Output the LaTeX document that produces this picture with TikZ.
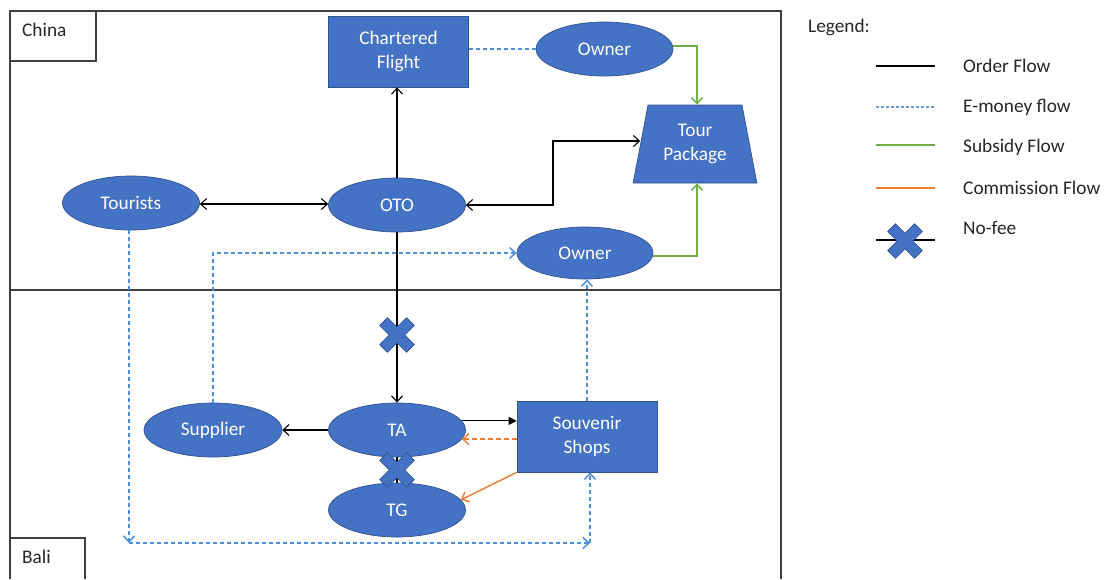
\documentclass[tikz,border=0pt]{standalone}
\usepackage{fontspec}
\setmainfont{Carlito}
\usetikzlibrary{arrows.meta,shapes.geometric}
\definecolor{ob}{HTML}{4472C4}
\definecolor{obd}{HTML}{2F528F}
\definecolor{em}{HTML}{4A90D9}
\definecolor{emlight}{HTML}{6F98DE}
\definecolor{sub}{HTML}{70AD47}
\definecolor{com}{HTML}{ED7D31}
\definecolor{frm}{HTML}{404040}
\definecolor{txt}{HTML}{262626}
\tikzset{
  nofee/.pic={
    \filldraw[fill=ob,draw=obd,line width=0.6pt,rotate=45]
      (5.5,5.5) -- (19,5.5) -- (19,-5.5) -- (5.5,-5.5) -- (5.5,-19) -- (-5.5,-19)
      -- (-5.5,-5.5) -- (-19,-5.5) -- (-19,5.5) -- (-5.5,5.5) -- (-5.5,19) -- (5.5,19) -- cycle;
  }
}
\begin{document}
\begin{tikzpicture}[x=1pt,y=-1pt,
  font=\fontsize{19.3}{24.5}\selectfont,
  >={Straight Barb[length=6pt,width=11pt]},
  ell/.style={ellipse, fill=ob, draw=obd, line width=0.7pt, text=white,
    minimum width=137pt, minimum height=54pt, inner sep=0pt},
  boxnode/.style={rectangle, fill=ob, draw=obd, line width=0.7pt, text=white,
    minimum width=140pt, minimum height=71pt, inner sep=0pt, align=center},
  frame/.style={draw=frm, line width=1.5pt},
  lbl/.style={text=txt, inner sep=0pt, anchor=west},
  ord/.style={draw=black, line width=1.1pt},
  emo/.style={draw=em, line width=1.5pt, dash pattern=on 4pt off 3pt},
  subs/.style={draw=sub, line width=1.5pt},
  comm/.style={draw=com, line width=1.4pt}
]
\useasboundingbox (0,0) rectangle (1110,579);

% frames
\draw[frame] (10,579) -- (10,11) -- (781,11) -- (781,579);
\draw[frame] (10,290) -- (781,290);
\draw[frame] (10,61) -- (96,61) -- (96,11);
\draw[frame] (10,538) -- (85,538) -- (85,579);
\node[lbl] (china) at (22,30) {China};
\node[lbl] (bali) at (22,557) {Bali};

% nodes
\node[boxnode] (chart) at (398.5,51.5) {Chartered\\Flight};
\node[ell] (own1) at (604.5,49) {Owner};
\node[trapezium, trapezium stretches=true, trapezium angle=76,
      minimum width=124pt, minimum height=78pt, inner sep=0pt,
      fill=ob, draw=obd, line width=0.7pt, text=white, align=center]
      (tour) at (695,144) {Tour\\Package};
\node[ell] (tourists) at (131,203) {Tourists};
\node[ell] (oto) at (397,205) {OTO};
\node[ell, minimum width=136pt, minimum height=52pt] (own2) at (585,253) {Owner};
\node[ell] (ta) at (397,430) {TA};
\node[ell] (tg) at (397,510) {TG};
\node[ell, minimum width=138pt] (sup) at (213,430) {Supplier};
\node[boxnode] (souv) at (587,436.5) {Souvenir\\Shops};

\coordinate (c1) at (129,543);
\coordinate (c2) at (590,543);

% order flow
\draw[ord,<->] ([yshift=-1pt]tourists.east) -- ([yshift=-1pt]tourists.east -| oto.west);
\draw[ord,->] (oto.north) -- (oto.north |- chart.south);
\draw[ord,<->] (oto.east) -- (553,205) |- ([yshift=3pt]tour.west);
\draw[ord,->] (oto.south) -- (ta.north);
\draw[ord,->] (ta.west) -- (sup.east);
\draw[ord,-{Triangle[length=8pt,width=8pt]}] (ta.8) -- (ta.8 -| souv.west);
\draw[ord] (ta.south) -- (tg.north);

% e-money flow
\draw[emo] (own1.west) -- (own1.west -| chart.east);
\draw[emo,->] (sup.north) |- (own2.west);
\draw[emo,->] (souv.north) -- (souv.north |- own2.south);
\draw[emo,->] (tourists.south -| c1) -- (c1);
\draw[emo,->] (c1) -- (c2);
\draw[emo,->] (c2) -- (c2 |- souv.south);

% subsidy flow
\draw[subs,->] ([yshift=3pt]own1.east) -| ([xshift=2pt]tour.north);
\draw[subs,->] ([yshift=-3pt]own2.east) -| ([xshift=2pt]tour.south);

% commission flow
\draw[comm,->,dash pattern=on 5pt off 3pt] (ta.-8 -| souv.west) -- (ta.-8);
\draw[comm,->] (souv.south west) -- (tg.9);

% no-fee markers
\pic at (397,335) {nofee};
\pic at (397,470) {nofee};

% legend
\node[lbl] (leg) at (808,27) {Legend:};
\draw[ord] (876,66) -- (935,66);
\node[lbl] (l1) at (963,66) {Order Flow};
\draw[draw=emlight, line width=1.3pt, dash pattern=on 3pt off 2pt] (876,107) -- (935,107);
\node[lbl] (l2) at (963,107) {E-money flow};
\draw[subs,line width=1.8pt] (876,145) -- (935,145);
\node[lbl] (l3) at (963,147) {Subsidy Flow};
\draw[comm,line width=1.8pt] (876,188) -- (935,188);
\node[lbl] (l4) at (963,188) {Commission Flow};
\draw[ord] (876,240) -- (935,240);
\pic at (905,241) {nofee};
\node[lbl] (l5) at (963,228) {No-fee};
\end{tikzpicture}
\end{document}
